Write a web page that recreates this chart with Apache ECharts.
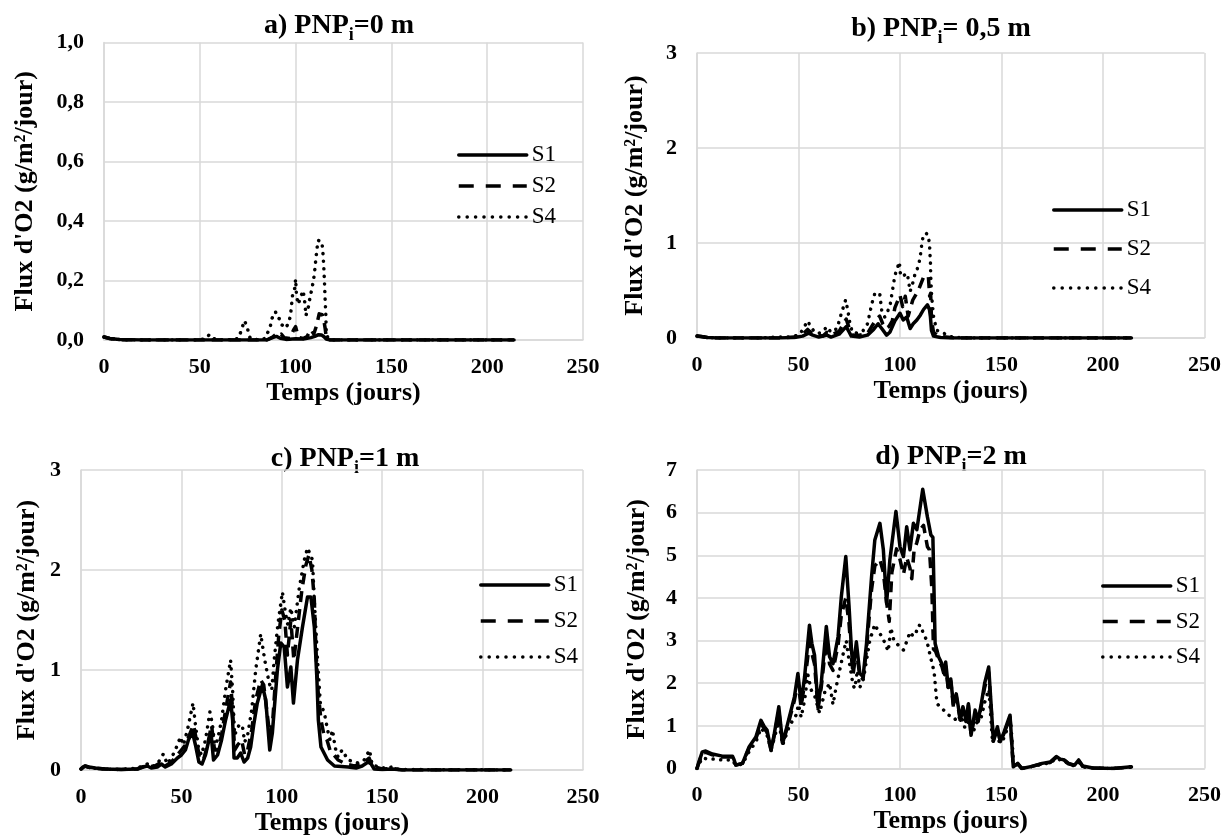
<!DOCTYPE html>
<html>
<head>
<meta charset="utf-8">
<script src="https://cdn.jsdelivr.net/npm/echarts@6.0.0/dist/echarts.min.js"></script>
<style>
  html, body { margin: 0; padding: 0; background: #ffffff; }
  #chart { width: 1224px; height: 837px; }
</style>
</head>
<body>
<div id="chart"></div>
<script>
// Oxygen flux over time (days) for scenarios S1, S2, S4 at four initial water-table depths.
// Each series: [day, flux in g/m2/day]

const seriesNames = ['S1', 'S2', 'S4'];
const xTicks = { min: 0, max: 250, step: 50 };

// a) PNPi = 0 m
const fluxA_S1 = [[0,0.01],[3,0.005],[8,0.002],[20,0],[85,0],[88,0.008],[90,0.012],[92,0.006],[95,0.002],[100,0.004],[104,0.003],[108,0.008],[110,0.012],[112,0.018],[113.5,0.017],[115,0.01],[116,0.003],[118,0],[214,0]];
const fluxA_S2 = [[0,0.01],[3,0.005],[10,0],[85,0],[88,0.01],[89.5,0.018],[91,0.012],[92.5,0.02],[94,0.008],[97,0.005],[99,0.035],[100,0.045],[101,0.02],[102,0.008],[104,0.005],[106,0.012],[108,0.035],[109.5,0.02],[111,0.05],[112.3,0.088],[113.9,0.085],[114.9,0.06],[115.4,0.04],[116,0.01],[118,0],[214,0]];
const fluxA_S4 = [[0,0.01],[3,0.005],[10,0],[50,0],[53,0.005],[55,0.018],[57,0.005],[60,0],[64,0.003],[66,0],[70,0.005],[71,0.02],[73.3,0.065],[74.6,0.046],[76,0.01],[78,0],[84,0.005],[85,0.018],[86.8,0.046],[87.7,0.073],[89.5,0.095],[90.5,0.075],[92,0.07],[93,0.05],[95,0.04],[96.8,0.067],[97.5,0.093],[98.4,0.15],[99.6,0.175],[100,0.205],[100.5,0.147],[101.4,0.12],[102.6,0.144],[103.9,0.166],[104.6,0.138],[105,0.112],[105.4,0.082],[106.7,0.112],[107.5,0.142],[108.4,0.169],[109.3,0.2],[109.8,0.222],[110.7,0.28],[111.2,0.307],[111.6,0.335],[112.5,0.338],[113.7,0.33],[114.2,0.3],[114.7,0.247],[115.1,0.19],[115.4,0.138],[115.8,0.08],[116,0.022],[117,0.005],[120,0],[214,0]];

// b) PNPi = 0,5 m
const fluxB_S1 = [[0,0.02],[2,0.015],[5,0.005],[10,0],[40,0],[48,0.005],[52,0.02],[55,0.05],[57,0.03],[60,0.01],[64,0.03],[66,0.01],[70,0.04],[73.5,0.12],[75,0.06],[76,0.02],[80,0.01],[84,0.03],[87,0.09],[89.2,0.15],[91,0.1],[93.4,0.03],[95,0.06],[97.5,0.18],[100,0.26],[101.6,0.19],[103.3,0.22],[105,0.1],[106.5,0.15],[108.3,0.19],[110,0.24],[111.6,0.3],[113.5,0.35],[114.5,0.3],[115,0.22],[115.5,0.08],[116.5,0.02],[120,0.005],[125,0],[214,0]];
const fluxB_S2 = [[0,0.02],[2,0.015],[5,0.005],[10,0],[40,0],[48,0.01],[52,0.04],[54.5,0.09],[56,0.06],[58,0.03],[62,0.02],[64,0.06],[66,0.03],[70,0.07],[73.5,0.2],[75,0.1],[76.5,0.03],[80,0.03],[84,0.05],[86,0.12],[88.4,0.2],[90,0.23],[91.5,0.15],[93,0.1],[94.5,0.12],[96.2,0.18],[97.5,0.32],[100,0.45],[101.3,0.33],[102.6,0.44],[104,0.23],[106.3,0.4],[109,0.5],[111.6,0.64],[113,0.66],[114,0.64],[114.6,0.44],[115.1,0.47],[115.5,0.2],[116.5,0.06],[119,0.02],[125,0.005],[130,0],[214,0]];
const fluxB_S4 = [[0,0.02],[2,0.015],[5,0.005],[10,0],[30,0],[35,0.005],[40,0.01],[45,0.01],[48.7,0.025],[51,0.05],[54.5,0.18],[56,0.12],[58,0.06],[60,0.05],[62,0.07],[64,0.12],[66,0.06],[69,0.1],[71,0.25],[73.2,0.4],[74.3,0.29],[75.2,0.17],[76.5,0.06],[79,0.05],[81.8,0.077],[84,0.15],[86,0.35],[87.6,0.47],[90,0.47],[91,0.29],[92.5,0.22],[95,0.33],[97.5,0.66],[99.7,0.8],[100.3,0.65],[102,0.66],[103.6,0.68],[105,0.49],[106.3,0.58],[107.6,0.69],[109,0.75],[110,0.86],[110.8,1.0],[111.6,1.09],[113,1.1],[114,1.08],[114.6,0.96],[115,0.79],[115.2,0.61],[115.6,0.44],[116.6,0.21],[118.2,0.08],[121.5,0.05],[124.8,0.015],[128,0.005],[135,0],[214,0]];

// c) PNPi = 1 m
const fluxC_S1 = [[0,0.01],[1,0.03],[2,0.04],[4,0.03],[7,0.02],[12,0.01],[20,0.005],[28,0.01],[31,0.03],[33,0.04],[35,0.02],[38,0.03],[40,0.06],[42,0.03],[45,0.06],[48,0.12],[50,0.15],[52,0.2],[53.5,0.3],[55.5,0.38],[57,0.25],[58.7,0.08],[60.3,0.06],[62,0.15],[63.7,0.3],[64.8,0.36],[66,0.1],[68,0.15],[70,0.3],[72,0.5],[74.5,0.7],[75.5,0.5],[76.2,0.12],[77.8,0.12],[79.5,0.17],[81.2,0.08],[83,0.12],[84.5,0.23],[86,0.45],[87.8,0.67],[90.3,0.85],[92,0.7],[93,0.45],[94,0.2],[95.3,0.37],[97,0.8],[97.8,1.0],[99.5,1.27],[101.2,1.23],[102.8,0.83],[104.5,1.03],[105.8,0.67],[107.8,1.1],[110.3,1.43],[112.8,1.73],[114.5,1.73],[116.2,1.43],[117.5,0.9],[118.2,0.5],[119.5,0.23],[122.8,0.1],[126.2,0.04],[133,0.03],[137,0.02],[140,0.04],[143,0.08],[144.5,0.06],[146,0.01],[150,0.005],[155,0.01],[160,0],[214,0]];
const fluxC_S2 = [[0,0.01],[2,0.04],[5,0.02],[12,0.01],[20,0.005],[28,0.01],[33,0.05],[36,0.03],[40,0.08],[42,0.04],[45,0.08],[48,0.15],[50,0.2],[52,0.25],[54,0.35],[56,0.45],[57.5,0.3],[59,0.12],[61,0.1],[63,0.25],[65,0.45],[66.5,0.2],[68,0.2],[70,0.35],[72,0.6],[74.5,0.88],[75.5,0.6],[76.5,0.2],[78,0.25],[80,0.3],[81.5,0.15],[83,0.2],[85,0.4],[87,0.7],[89.5,0.9],[91,0.85],[92.5,0.6],[94,0.35],[95.5,0.5],[97,0.95],[98.5,1.35],[100,1.6],[101.5,1.5],[102.8,1.15],[104.5,1.5],[106,1.1],[108,1.45],[110,1.8],[112,2.05],[113.5,2.15],[115,2.0],[116.2,1.7],[117,1.2],[118,0.8],[119.5,0.5],[121,0.35],[122.5,0.3],[124,0.2],[126,0.15],[128,0.1],[132,0.06],[136,0.04],[140,0.06],[143.5,0.12],[145,0.04],[150,0.01],[155,0.015],[160,0],[214,0]];
const fluxC_S4 = [[0,0.01],[2,0.04],[5,0.02],[12,0.01],[20,0.005],[28,0.02],[31,0.04],[33,0.06],[35,0.03],[38,0.06],[41,0.16],[43,0.06],[45,0.12],[47,0.2],[49.5,0.33],[51,0.25],[53,0.4],[55.8,0.67],[57,0.45],[58.5,0.22],[60,0.15],[62,0.3],[64.2,0.58],[65.5,0.45],[66.5,0.25],[68,0.3],[70,0.5],[72,0.8],[74.5,1.1],[75.5,0.8],[76.5,0.35],[78.7,0.45],[80.3,0.45],[81.5,0.28],[83,0.35],[85,0.6],[87,1.0],[89.5,1.36],[91.5,1.1],[93.7,0.87],[95,0.8],[96.2,1.1],[98,1.45],[100.3,1.78],[102,1.55],[103,1.45],[104.5,1.62],[106.2,1.43],[108.7,1.82],[111.2,2.1],[112.8,2.22],[115.3,2.1],[116,1.77],[117.8,1.1],[119.2,0.67],[121.2,0.57],[122.8,0.4],[124,0.3],[125.3,0.4],[126.5,0.23],[128,0.13],[130,0.2],[133,0.1],[138,0.07],[141,0.1],[143.7,0.2],[145,0.05],[150,0.02],[155,0.03],[158,0.005],[214,0]];

// d) PNPi = 2 m
const fluxD_S1 = [[0,0],[0.7,0.12],[2.6,0.39],[4.3,0.41],[7.6,0.34],[12.5,0.29],[17.5,0.29],[18.3,0.2],[19.1,0.08],[22.4,0.12],[25.7,0.51],[29,0.74],[31.5,1.13],[33.2,0.98],[34.5,0.9],[36.5,0.43],[38.1,0.82],[40.3,1.45],[42.2,0.59],[45.5,1.21],[48,1.68],[49.7,2.23],[51.3,1.53],[53,2.15],[55.4,3.36],[56.6,2.93],[57.9,2.66],[59.6,1.45],[61.2,2.0],[63.7,3.33],[65.3,2.62],[67,2.46],[69.5,3.09],[71.1,4.03],[73.3,4.97],[74.9,3.8],[76.1,2.78],[76.9,2.31],[78.5,2.97],[80.2,2.23],[81.8,2.15],[83.5,2.93],[86,4.5],[87.6,5.36],[90.1,5.75],[91.8,5.13],[93.4,3.87],[95,4.89],[98,6.03],[100,5.2],[101.7,4.97],[103.3,5.67],[104.9,5.13],[106.6,5.75],[108.3,5.6],[111.2,6.55],[113.5,5.9],[115.2,5.48],[116.2,5.42],[117.3,2.93],[119,2.62],[120.6,2.46],[122,2.2],[122.5,2.5],[123.8,1.9],[125,2.1],[126.3,1.5],[127.7,1.75],[129.8,1.13],[131,1.45],[132.5,1.13],[133.7,1.52],[135,0.78],[137,1.37],[138.5,1.13],[139.8,1.45],[141.7,2.0],[143.7,2.38],[146,0.66],[148,0.98],[149.4,0.63],[151.3,0.86],[154.2,1.25],[155.8,0.04],[158,0.12],[160,0],[165,0.05],[170,0.12],[174,0.15],[177,0.28],[179,0.22],[181,0.2],[183,0.12],[186,0.08],[188,0.2],[190,0.06],[195,0.01],[205,0],[214,0.04]];
const fluxD_S2 = [[0,0],[0.7,0.1],[2.6,0.36],[4.3,0.38],[7.6,0.32],[12.5,0.27],[17.5,0.27],[18.3,0.18],[19.1,0.08],[22.4,0.12],[25.7,0.48],[29,0.7],[31.5,1.05],[33.2,0.93],[34.5,0.85],[36.5,0.42],[38.1,0.78],[40.3,1.35],[42.2,0.57],[45.5,1.15],[48,1.6],[49.7,2.05],[51.3,1.45],[53,2.0],[55.4,2.95],[56.6,2.7],[57.9,2.45],[59.6,1.4],[61.2,1.9],[63.7,3.0],[65.3,2.45],[67,2.3],[69.5,2.9],[71.1,3.6],[73.3,4.0],[74.9,3.4],[76.1,2.6],[76.9,2.2],[78.5,2.8],[80.2,2.15],[81.8,2.1],[83.5,2.8],[86,4.2],[87.6,4.75],[90.1,4.9],[91.8,4.6],[93.4,3.9],[94.7,3.45],[96,4.6],[98.3,5.15],[100,4.9],[101.7,4.55],[103.3,4.95],[104.9,4.7],[105.8,4.45],[106.9,5.1],[108.3,5.3],[109.9,5.6],[111.6,5.7],[113.5,5.2],[114.5,5.13],[115.2,4.6],[115.7,4.2],[116.5,2.8],[117.5,2.75],[119,2.55],[120.6,2.4],[122,2.15],[122.5,2.4],[123.8,1.85],[125,2.05],[126.3,1.45],[127.7,1.7],[129.8,1.1],[131,1.4],[132.5,1.1],[133.7,1.48],[135,0.78],[137,1.3],[138.5,1.1],[139.8,1.4],[141.7,1.9],[143.7,2.25],[146,0.64],[148,0.95],[149.4,0.62],[151.3,0.83],[154.2,1.2],[155.8,0.04],[158,0.11],[160,0],[165,0.05],[170,0.11],[174,0.14],[177,0.26],[179,0.2],[181,0.19],[183,0.11],[186,0.07],[188,0.18],[190,0.05],[195,0.01],[205,0],[214,0.04]];
const fluxD_S4 = [[0,0],[1,0.1],[2.6,0.25],[4.3,0.23],[8,0.22],[12.5,0.2],[17.5,0.2],[19,0.08],[22.4,0.1],[25.7,0.4],[29,0.62],[31.5,0.95],[33.2,0.85],[34.5,0.78],[36.5,0.45],[38.1,0.72],[40.3,1.1],[42.2,0.55],[45.5,1.0],[48.8,1.25],[50,1.5],[51.3,1.2],[53,1.6],[54.6,2.2],[56.3,1.84],[58,1.7],[60.4,1.3],[63,1.8],[65.3,2.0],[67,1.5],[68.5,1.9],[71.6,2.6],[73.5,3.0],[75,2.5],[76.9,1.95],[77.7,1.88],[79,2.3],[80.2,1.9],[82,2.1],[85.1,3.0],[87.6,3.38],[89.5,3.2],[91,3.1],[92.5,2.95],[94.2,2.75],[95.5,3.3],[97,3.0],[99,2.9],[101.7,2.78],[103.5,3.0],[104.9,3.2],[106.5,3.1],[108,3.2],[109,3.36],[110.5,3.35],[111.2,3.2],[113.2,3.0],[115,2.62],[116.8,2.27],[117.5,1.9],[118.2,1.53],[119.5,1.45],[121.5,1.37],[124,1.25],[126.4,1.21],[128,1.1],[130,1.25],[132,0.95],[134,1.1],[136,0.85],[138,1.1],[140,1.2],[142,1.6],[143.8,1.85],[145.6,0.6],[147.5,0.9],[149,0.6],[151,0.7],[153,0.95],[154.5,1.1],[155.5,0.45],[156,0.05],[158,0.1],[160,0],[165,0.05],[170,0.1],[174,0.13],[177,0.24],[179,0.2],[181,0.18],[183,0.1],[186,0.06],[188,0.15],[190,0.04],[195,0.01],[205,0],[214,0.03]];

// panel titles (the "i" is drawn as a subscript) and y-axis ranges
const panelTitles = [['a) PNP', 'i', '=0 m'], ['b) PNP', 'i', '= 0,5 m'], ['c) PNP', 'i', '=1 m'], ['d) PNP', 'i', '=2 m']];
const yRanges = [{ max: 1, step: 0.2, decimals: 1 }, { max: 3, step: 1, decimals: 0 }, { max: 3, step: 1, decimals: 0 }, { max: 7, step: 1, decimals: 0 }];
const xAxisName = 'Temps (jours)';
const yAxisName = "Flux d'O2 (g/m²/jour)";

const panelData = [
  [fluxA_S1, fluxA_S2, fluxA_S4],
  [fluxB_S1, fluxB_S2, fluxB_S4],
  [fluxC_S1, fluxC_S2, fluxC_S4],
  [fluxD_S1, fluxD_S2, fluxD_S4]
];

// ---- layout & styling ----
const FONT = "'Liberation Serif', 'Times New Roman', serif";
const GRID_COLOR = '#d9d9d9';
const LINE_W = 3.5;

const grids = [
  { left: 104, top: 42.5, width: 479, height: 297.5 },
  { left: 697, top: 53, width: 509, height: 285 },
  { left: 81, top: 470, width: 502, height: 300 },
  { left: 697, top: 470, width: 509, height: 298.5 }
];
const yNameGaps = [66, 49, 41, 47];
const titlePos = [[339, 26], [941, 28.5], [345, 459], [951, 457]];
const legendPos = [
  { left: 457, top: 143.5, gap: 8 },
  { left: 1052, top: 198.5, gap: 16 },
  { left: 479, top: 573.5, gap: 13 },
  { left: 1101, top: 574.5, gap: 12.5 }
];

const lineStyles = {
  S1: { color: '#000', width: LINE_W, type: 'solid', cap: 'round', join: 'round' },
  S2: { color: '#000', width: LINE_W, type: [11, 7], cap: 'butt', join: 'round' },
  S4: { color: '#000', width: LINE_W, type: [0.1, 7.5], cap: 'round', join: 'round' }
};

const fmt = (v, d) => v.toFixed(d).replace('.', ',');

const xAxes = grids.map((g, i) => ({
  type: 'value', gridIndex: i,
  min: xTicks.min, max: xTicks.max, interval: xTicks.step,
  name: xAxisName, nameLocation: 'middle', nameGap: 40,
  nameTextStyle: { fontFamily: FONT, fontWeight: 'bold', fontSize: 26, color: '#000' },
  axisLine: { show: true, lineStyle: { color: GRID_COLOR, width: 1.5 } },
  axisTick: { show: false },
  axisLabel: { fontFamily: FONT, fontWeight: 'bold', fontSize: 22, color: '#000', margin: 16 },
  splitLine: { show: true, lineStyle: { color: GRID_COLOR, width: 1.5 } }
}));

const yAxes = grids.map((g, i) => ({
  type: 'value', gridIndex: i,
  min: 0, max: yRanges[i].max, interval: yRanges[i].step,
  name: yAxisName, nameLocation: 'middle', nameGap: yNameGaps[i],
  nameTextStyle: { fontFamily: FONT, fontWeight: 'bold', fontSize: 26, color: '#000' },
  axisLine: { show: true, lineStyle: { color: GRID_COLOR, width: 1.5 } },
  axisTick: { show: false },
  axisLabel: { fontFamily: FONT, fontWeight: 'bold', fontSize: 22, color: '#000', margin: 20,
               formatter: v => fmt(v, yRanges[i].decimals) },
  splitLine: { show: true, lineStyle: { color: GRID_COLOR, width: 1.5 } }
}));

// draw S4 first, S1 last so the solid line sits on top
const drawOrder = [2, 1, 0];
const series = [];
panelData.forEach((arrs, p) => {
  drawOrder.forEach(k => {
    const name = seriesNames[k];
    series.push({
      type: 'line', name, xAxisIndex: p, yAxisIndex: p,
      data: arrs[k], showSymbol: false, symbol: 'none', smooth: false,
      lineStyle: lineStyles[name], itemStyle: { color: '#000' },
      silent: true
    });
  });
});

// legend keys show the line pattern only (no marker)
const noMarker = { color: 'rgba(0,0,0,0)', borderWidth: 0, opacity: 0 };
const legends = legendPos.map(lp => ({
  orient: 'vertical', left: lp.left, top: lp.top, padding: 0,
  itemGap: lp.gap, itemWidth: 68, itemHeight: 14,
  textStyle: { fontFamily: FONT, fontSize: 23, color: '#000', lineHeight: 23 },
  selectedMode: false,
  itemStyle: noMarker,
  data: [
    { name: 'S1', itemStyle: noMarker, lineStyle: { type: 'solid', width: LINE_W, color: '#000' } },
    { name: 'S2', itemStyle: noMarker, lineStyle: { type: [15, 12], width: LINE_W, color: '#000', cap: 'butt' } },
    { name: 'S4', itemStyle: noMarker, lineStyle: { type: [0.1, 8.3], width: LINE_W, color: '#000', cap: 'round' } }
  ]
}));

const titles = panelTitles.map((t, i) => ({
  type: 'text', x: titlePos[i][0], y: titlePos[i][1], silent: true,
  style: {
    text: '{m|' + t[0] + '}{s|' + t[1] + '}{m|' + t[2] + '}',
    align: 'center', verticalAlign: 'middle',
    rich: {
      m: { fontFamily: FONT, fontWeight: 'bold', fontSize: 28, lineHeight: 37, verticalAlign: 'middle', fill: '#000' },
      s: { fontFamily: FONT, fontWeight: 'bold', fontSize: 18, lineHeight: 18, verticalAlign: 'bottom', fill: '#000' }
    }
  }
}));

const chart = echarts.init(document.getElementById('chart'), null, { renderer: 'canvas' });
chart.setOption({
  animation: false,
  backgroundColor: '#ffffff',
  grid: grids,
  xAxis: xAxes,
  yAxis: yAxes,
  legend: legends,
  series,
  graphic: titles
});
</script>
</body>
</html>
